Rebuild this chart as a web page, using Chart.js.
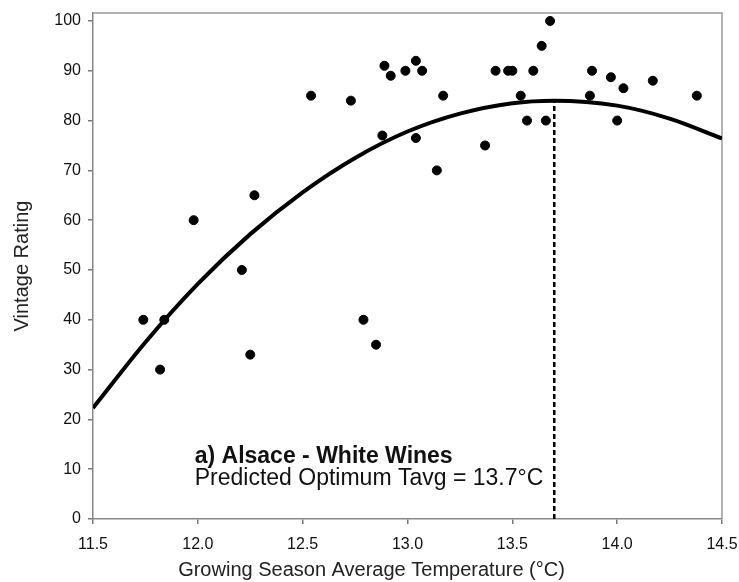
<!DOCTYPE html>
<html>
<head>
<meta charset="utf-8">
<script src="https://cdn.jsdelivr.net/npm/chart.js@4"></script>
<style>
  body { margin: 0; background: #fff; }
  #wrap { width: 739px; height: 582px; }
</style>
</head>
<body>
<div id="wrap"><canvas id="chart" width="739" height="582"></canvas></div>
<script>
// ---------- data ----------
const obsTemp = [11.74, 11.84, 11.82, 11.98, 12.21, 12.25, 12.27, 12.54, 12.73, 12.79, 12.85,
                 12.88, 12.89, 12.92, 12.99, 13.04, 13.04, 13.07, 13.14, 13.17, 13.37, 13.42,
                 13.48, 13.50, 13.54, 13.57, 13.60, 13.64, 13.66, 13.68, 13.87, 13.88, 13.97,
                 14.00, 14.03, 14.17, 14.38];
const obsRating = [40, 40, 30, 60, 50, 33, 65, 85, 84, 40, 35,
                   77, 91, 89, 90, 92, 76.5, 90, 70, 85, 75, 90,
                   90, 90, 85, 80, 90, 95, 80, 100, 85, 90, 88.7,
                   80, 86.5, 88, 85];

const fitTemp = [11.5, 11.75, 12.0, 12.25, 12.5, 12.75, 13.0, 13.25, 13.5, 13.7, 14.0, 14.25, 14.5];
const fitRating = [22.3, 35.5, 47.2, 57.2, 65.6, 72.5, 77.8, 81.4, 83.5, 84.0, 83.0, 80.4, 76.4];

const optTemp = 13.7;
const optRange = [0, 84];

const xTicks = [11.5, 12.0, 12.5, 13.0, 13.5, 14.0, 14.5];
const yTicks = [0, 10, 20, 30, 40, 50, 60, 70, 80, 90, 100];

const xTitle = "Growing Season Average Temperature (°C)";
const noteTitle = "a) Alsace - White Wines";
const noteText = "Predicted Optimum Tavg = 13.7°C";

const FONT = "'Liberation Sans', Arial, sans-serif";

// frame on top/right, the text box, and the x title (centred on the page, not the plot)
const framePlugin = {
    id: "frame",
    beforeDatasetsDraw(chart) {
        const { ctx, chartArea: a } = chart;
        ctx.save();
        ctx.strokeStyle = "#9a9a9a";
        ctx.lineWidth = 1.5;
        ctx.beginPath();
        ctx.moveTo(a.left, a.top);
        ctx.lineTo(a.right, a.top);
        ctx.lineTo(a.right, a.bottom);
        ctx.stroke();
        ctx.restore();
    },
    afterDatasetsDraw(chart) {
        const { ctx, scales } = chart;
        const x = scales.x.getPixelForValue(11.985);
        const y = scales.y.getPixelForValue(11.2);
        ctx.save();
        ctx.fillStyle = "#111";
        ctx.textBaseline = "alphabetic";
        ctx.font = "bold 23px " + FONT;
        ctx.fillText(noteTitle, x, y);
        ctx.font = "23px " + FONT;
        ctx.fillText(noteText, x, y + 22);

        ctx.fillStyle = "#222";
        ctx.font = "20px " + FONT;
        ctx.textAlign = "center";
        ctx.textBaseline = "middle";
        ctx.fillText(xTitle, chart.width / 2 + 2, chart.height - 12);
        ctx.restore();
    }
};

const ctx = document.getElementById("chart").getContext("2d");

new Chart(ctx, {
    type: "scatter",
    data: {
        datasets: [
            {
                label: "Fit",
                type: "line",
                data: fitTemp.map((t, i) => ({ x: t, y: fitRating[i] })),
                borderColor: "#000",
                borderWidth: 4,
                pointRadius: 0,
                cubicInterpolationMode: "monotone",
                fill: false,
                order: 2
            },
            {
                label: "Optimum",
                type: "line",
                data: optRange.map(v => ({ x: optTemp, y: v })),
                borderColor: "#000",
                borderWidth: 2.5,
                borderDash: [5, 3],
                pointRadius: 0,
                fill: false,
                order: 3
            },
            {
                label: "Vintages",
                data: obsTemp.map((t, i) => ({ x: t, y: obsRating[i] })),
                backgroundColor: "#000",
                borderColor: "#000",
                pointRadius: 4.5,
                pointHoverRadius: 4.5,
                order: 1
            }
        ]
    },
    options: {
        responsive: false,
        animation: false,
        layout: { padding: { top: 13, right: 17, left: 0, bottom: 0 } },
        plugins: {
            legend: { display: false },
            tooltip: { enabled: false }
        },
        scales: {
            x: {
                type: "linear",
                min: 11.5,
                max: 14.5,
                afterBuildTicks: s => { s.ticks = xTicks.map(v => ({ value: v })); },
                afterFit: s => { s.height = 63; s.paddingLeft = 0; s.paddingRight = 0; },
                grid: { drawOnChartArea: false, drawTicks: true, tickLength: 5, color: "#777", lineWidth: 1.5 },
                border: { display: true, color: "#888", width: 1.5 },
                ticks: {
                    color: "#111",
                    padding: 11,
                    font: { family: FONT, size: 16 },
                    callback: v => v.toFixed(1)
                }
            },
            y: {
                type: "linear",
                min: 0,
                max: 101.6,
                afterBuildTicks: s => { s.ticks = yTicks.map(v => ({ value: v })); },
                afterFit: s => { s.width = 93; s.paddingTop = 0; s.paddingBottom = 0; },
                grid: { drawOnChartArea: false, drawTicks: true, tickLength: 5, color: "#777", lineWidth: 1.5 },
                border: { display: true, color: "#888", width: 1.5 },
                ticks: {
                    color: "#111",
                    padding: 7,
                    font: { family: FONT, size: 16 }
                },
                title: {
                    display: true,
                    text: "Vintage Rating",
                    color: "#222",
                    font: { family: FONT, size: 20 },
                    padding: { top: 10, bottom: 0 }
                }
            }
        }
    },
    plugins: [framePlugin]
});
</script>
</body>
</html>
